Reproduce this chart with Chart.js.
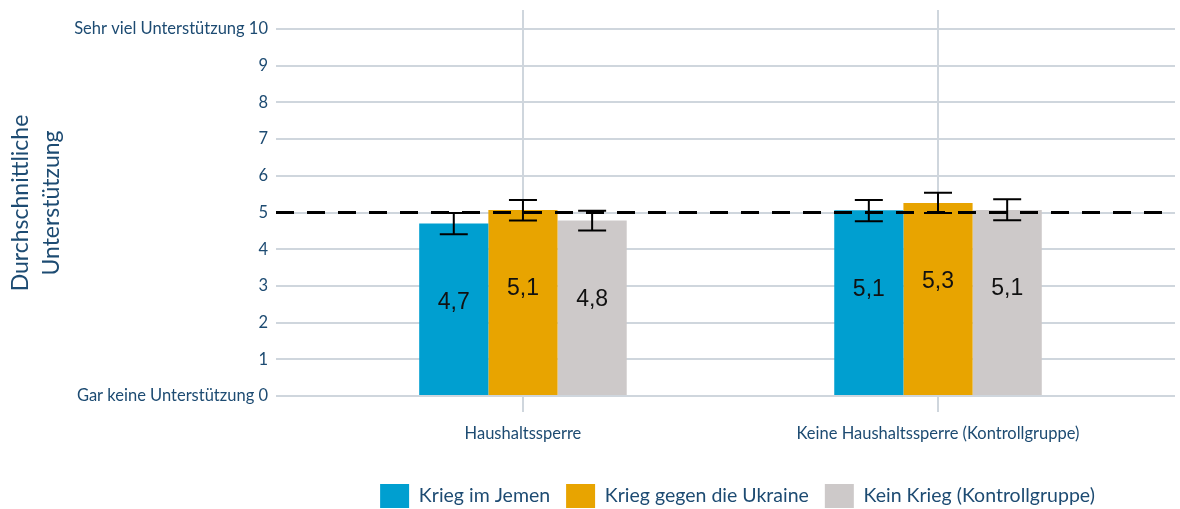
<!DOCTYPE html>
<html>
<head>
<meta charset="utf-8">
<script src="https://cdn.jsdelivr.net/npm/chart.js@4"></script>
<style>
  html, body { margin: 0; padding: 0; background: #fff; }
  #wrap { width: 1180px; height: 509px; }
</style>
</head>
<body>
<div id="wrap"><canvas id="chart"></canvas></div>
<script>
const categories = ['Haushaltssperre', 'Keine Haushaltssperre (Kontrollgruppe)'];
const seriesNames = ['Krieg im Jemen', 'Krieg gegen die Ukraine', 'Kein Krieg (Kontrollgruppe)'];

// means per group
const jemen = [4.70, 5.06];
const ukraine = [5.07, 5.26];
const keinKrieg = [4.78, 5.07];

// confidence intervals (low / high)
const jemenLow = [4.41, 4.76];
const jemenHigh = [4.99, 5.34];
const ukraineLow = [4.78, 4.99];
const ukraineHigh = [5.34, 5.54];
const keinLow = [4.51, 4.79];
const keinHigh = [5.05, 5.36];

const yTicks = [0, 1, 2, 3, 4, 5, 6, 7, 8, 9, 10];
const yTickLabels = ['Gar keine Unterstützung 0', '1', '2', '3', '4', '5', '6', '7', '8', '9', 'Sehr viel Unterstützung 10'];
const referenceLine = 5;

const textColor = '#1d4b72';
const gridColor = '#cfd6dd';
const colors = ['#009fd0', '#e8a400', '#cdc9c9'];

const toPoints = arr => arr.map((v, i) => ({ x: i + 1, y: v }));

const extras = {
  id: 'extras',
  afterLayout(chart) {
    // legend sits a bit right of the plot centre
    const lg = chart.legend;
    lg.left += 12;
    lg.right += 12;
  },
  afterDatasetsDraw(chart) {
    const { ctx, chartArea, scales: { y } } = chart;
    ctx.save();

    // dashed line at the scale midpoint
    const yRef = y.getPixelForValue(referenceLine);
    ctx.strokeStyle = '#000';
    ctx.lineWidth = 3;
    ctx.setLineDash([18, 13]);
    ctx.beginPath();
    ctx.moveTo(chartArea.left, yRef);
    ctx.lineTo(chartArea.right, yRef);
    ctx.stroke();
    ctx.setLineDash([]);

    chart.data.datasets.forEach((ds, di) => {
      chart.getDatasetMeta(di).data.forEach((bar, i) => {
        // error bar
        const lo = y.getPixelForValue(ds.errLow[i]);
        const hi = y.getPixelForValue(ds.errHigh[i]);
        const cap = 14;
        ctx.strokeStyle = '#000';
        ctx.lineWidth = 2;
        ctx.beginPath();
        ctx.moveTo(bar.x, lo); ctx.lineTo(bar.x, hi);
        ctx.moveTo(bar.x - cap, lo); ctx.lineTo(bar.x + cap, lo);
        ctx.moveTo(bar.x - cap, hi); ctx.lineTo(bar.x + cap, hi);
        ctx.stroke();

        // value label inside the bar
        ctx.fillStyle = '#111';
        ctx.font = '23px "Liberation Sans", Arial, sans-serif';
        ctx.textAlign = 'center';
        ctx.textBaseline = 'middle';
        ctx.fillText(ds.data[i].y.toFixed(1).replace('.', ','), bar.x, bar.y + 79);
      });
    });
    ctx.restore();
  }
};

new Chart(document.getElementById('chart'), {
  type: 'bar',
  data: {
    datasets: [
      { label: seriesNames[0], data: toPoints(jemen), errLow: jemenLow, errHigh: jemenHigh, backgroundColor: colors[0] },
      { label: seriesNames[1], data: toPoints(ukraine), errLow: ukraineLow, errHigh: ukraineHigh, backgroundColor: colors[1] },
      { label: seriesNames[2], data: toPoints(keinKrieg), errLow: keinLow, errHigh: keinHigh, backgroundColor: colors[2] },
    ]
  },
  options: {
    responsive: true,
    maintainAspectRatio: false,
    animation: false,
    categoryPercentage: 0.5,
    barPercentage: 1,
    layout: { padding: { top: 10, right: 5, left: 0, bottom: -9 } },
    scales: {
      x: {
        type: 'linear',
        offset: false,
        min: 0.405,
        max: 2.571,
        afterBuildTicks: s => { s.ticks = categories.map((c, i) => ({ value: i + 1 })); },
        afterFit: s => { s.height = 72; },
        ticks: {
          callback: (v, i) => categories[i],
          color: textColor,
          font: { family: 'Lato', size: 16.5 },
          padding: 12,
          autoSkip: false,
          maxRotation: 0
        },
        grid: { offset: false, color: gridColor, lineWidth: 2, tickLength: 16 },
        border: { display: false }
      },
      y: {
        min: 0,
        max: 10.52,
        afterBuildTicks: s => { s.ticks = yTicks.map(v => ({ value: v })); },
        afterFit: s => { s.width = 276; s.paddingTop = 0; s.paddingBottom = 0; },
        ticks: {
          callback: (v, i) => yTickLabels[i],
          color: textColor,
          font: { family: 'Lato', size: 16.5 },
          padding: 8
        },
        grid: { color: gridColor, lineWidth: 2, drawTicks: false },
        border: { display: false },
        title: {
          display: true,
          text: ['Durchschnittliche', 'Unterstützung'],
          color: textColor,
          font: { family: 'Lato', size: 23, lineHeight: 1.35 },
          padding: { top: 5, bottom: 0 }
        }
      }
    },
    plugins: {
      legend: {
        position: 'bottom',
        fullSize: false,
        labels: {
          boxWidth: 29,
          boxHeight: 24,
          padding: 16,
          color: textColor,
          font: { family: 'Lato', size: 19.5 }
        }
      },
      tooltip: { enabled: false }
    }
  },
  plugins: [extras]
});
</script>
</body>
</html>
